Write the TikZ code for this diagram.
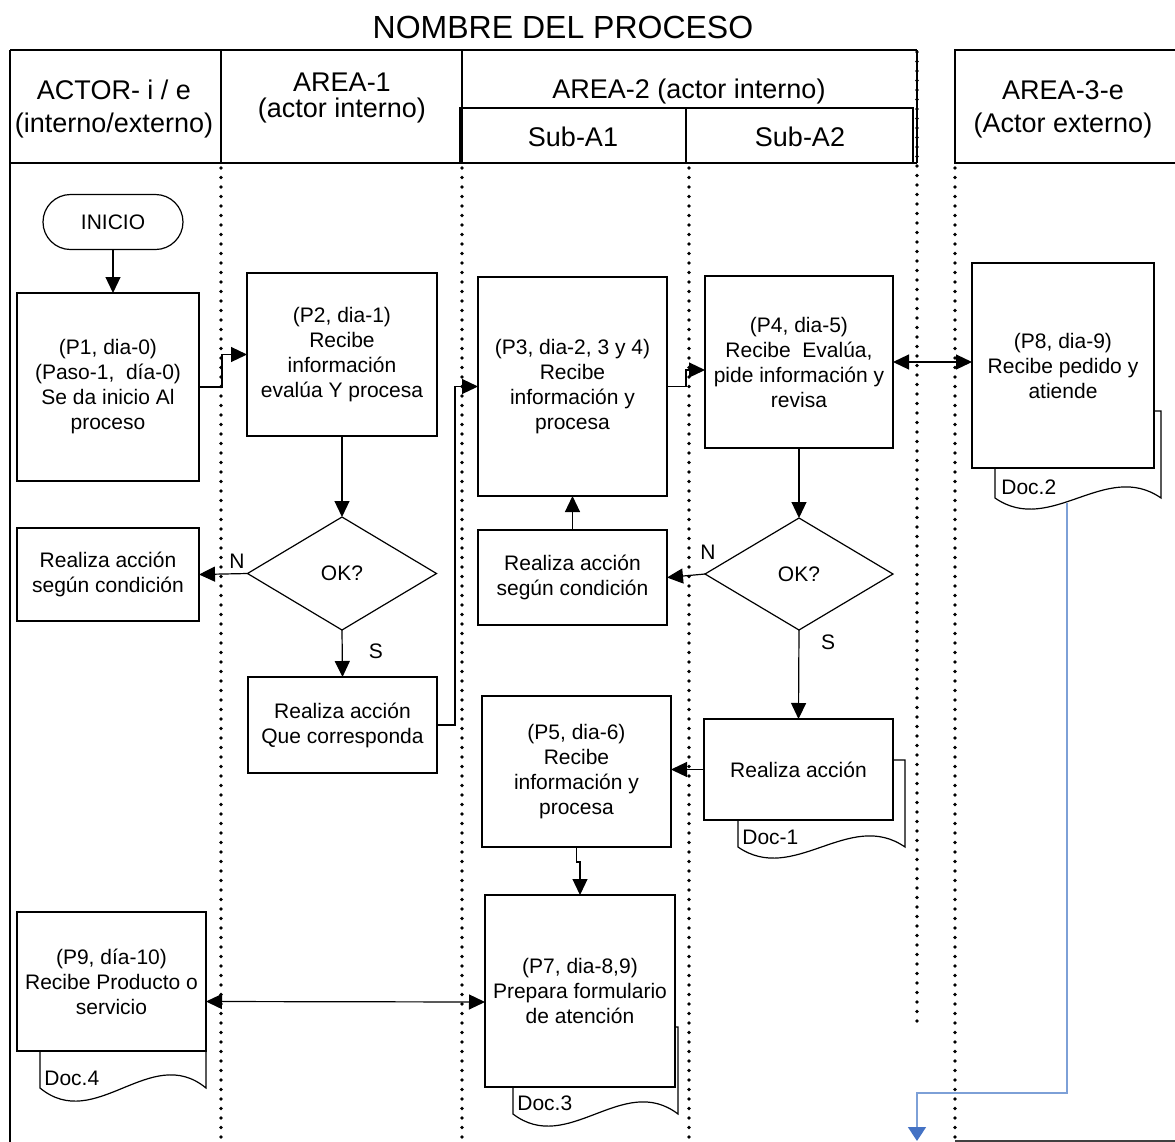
\documentclass[tikz,border=0pt]{standalone}
\usepackage{fontspec}
\setmainfont{Liberation Sans}
\usetikzlibrary{arrows.meta,shapes.geometric,shapes.misc,calc}
\newcommand\txtb{\fontsize{10.5pt}{12.5pt}\selectfont}
\newcommand\txth{\fontsize{13.5pt}{13pt}\selectfont}
\newcommand\txtt{\fontsize{16pt}{18pt}\selectfont}
\definecolor{lnblue}{RGB}{125,160,215}
\definecolor{tipblue}{RGB}{68,114,196}
\newcommand\docback[5]{\draw[line width=0.6pt, fill=white] (#1,#3) -- (#2,#3) -- (#2,#4) .. controls ({#2-(#2-#1)/3},{#4-3.5*#5}) and ({#1+(#2-#1)/3},{#4+3.5*#5}) .. (#1,#4) -- cycle;}
\tikzset{
  box/.style={draw, line width=0.6pt, fill=white, align=center, inner sep=0pt, outer sep=0pt, font=\txtb},
  dec/.style={diamond, draw, line width=0.6pt, fill=white, inner sep=0pt, outer sep=0pt, font=\txtb},
  arr/.style={-{Triangle[length=8pt,width=7.5pt]}, line width=0.6pt},
  darr/.style={{Triangle[length=8pt,width=7.5pt]}-{Triangle[length=8pt,width=7.5pt]}, line width=0.6pt},
  lane/.style={line width=1.8pt, line cap=round, dash pattern=on 0pt off 4.75pt},
  hdr/.style={line width=1pt},
  hdrtxt/.style={font=\txth, align=center, inner sep=0pt},
  doclbl/.style={anchor=west, font=\txtb, inner sep=0pt},
  lbl/.style={font=\txtb, inner sep=0pt},
  blueline/.style={draw=lnblue, line width=0.8pt, -{Triangle[length=7pt,width=9pt,color=tipblue]}}
}
\begin{document}
\begin{tikzpicture}[x=0.5pt,y=-0.5pt]
\useasboundingbox (0,0) rectangle (1175,1142);
\clip (0,0) rectangle (1175,1142);

% title
\node[font=\txtt, inner sep=0pt] (title) at (563,27) {NOMBRE DEL PROCESO};

% header frame
\draw[hdr] (10,50) -- (917,50);
\draw[hdr] (10,163) -- (917,163);
\draw[line width=1.2pt] (10,50) -- (10,1145);
\draw[hdr] (221,50) -- (221,163);
\draw[hdr] (462,50) -- (462,163);
\draw[hdr] (917,50) -- (917,163);
\draw[line width=0.6pt] (460,163) -- (460,108) -- (913,108) -- (913,163);
\draw[hdr] (686,108) -- (686,163);
\draw[hdr] (955,50) rectangle (1180,163);
\draw[hdr, draw=black!75] (955,1141) -- (1180,1141);

\node[hdrtxt] (hactor) at (114,109) {ACTOR- i / e\\[3.5pt](interno/externo)};
\node[hdrtxt] (harea1) at (342,98) {AREA-1\\(actor interno)};
\node[hdrtxt] (harea2) at (689,92) {AREA-2 (actor interno)};
\node[hdrtxt] (hsub1) at (573,137) {Sub-A1};
\node[hdrtxt] (hsub2) at (800,137) {Sub-A2};
\node[hdrtxt] (harea3) at (1063,109) {AREA-3-e\\[3.5pt](Actor externo)};

% lanes
\draw[lane] (221,168) -- (221,1142);
\draw[lane] (462,168) -- (462,1142);
\draw[lane] (689,168) -- (689,1142);
\draw[lane] (917,52) -- (917,1030);
\draw[lane] (955,168) -- (955,1142);

% document backs
\docback{995}{1161}{411}{498}{11}
\docback{738}{905}{760}{847}{11}
\docback{513}{678}{1027}{1114}{12}
\docback{40}{206}{1000}{1088}{13}
\node[doclbl] (doc2) at (1001,487) {Doc.2};
\node[doclbl] (doc1) at (742,837) {Doc-1};
\node[doclbl] (doc3) at (517,1103) {Doc.3};
\node[doclbl] (doc4) at (44,1078) {Doc.4};

% nodes
\node[box, rounded rectangle, minimum width=70pt, minimum height=27.5pt] (inicio) at (113,222) {INICIO};
\node[box, minimum width=91pt, minimum height=94pt] (p1) at (108,387) {(P1, dia-0)\\(Paso-1,\ \ día-0)\\Se da inicio Al\\proceso};
\node[box, minimum width=95pt, minimum height=81.5pt] (p2) at (342,354.5) {(P2, dia-1)\\Recibe\\información\\evalúa Y procesa};
\node[box, minimum width=91pt, minimum height=46.5pt] (n1) at (108,574.5) {Realiza acción\\según condición};
\node[dec, minimum width=94.5pt, minimum height=56.5pt] (d1) at (342,573.5) {OK?};
\node[box, minimum width=94.5pt, minimum height=48pt] (s1) at (342.5,725) {Realiza acción\\Que corresponda};
\node[box, minimum width=94.5pt, minimum height=109.5pt] (p3) at (572.5,386.5) {(P3, dia-2, 3 y 4)\\Recibe\\información y\\procesa};
\node[box, minimum width=94.5pt, minimum height=47.5pt] (n2) at (572.5,577.5) {Realiza acción\\según condición};
\node[box, minimum width=94pt, minimum height=86pt] (p4) at (799,362) {(P4, dia-5)\\Recibe\ \ Evalúa,\\pide información y\\revisa};
\node[dec, minimum width=94pt, minimum height=56pt] (d2) at (799,574) {OK?};
\node[box, minimum width=94.5pt, minimum height=50.5pt] (ra) at (798.5,769.5) {Realiza acción};
\node[box, minimum width=94.5pt, minimum height=75.5pt] (p5) at (576.5,771.5) {(P5, dia-6)\\Recibe\\información y\\procesa};
\node[box, minimum width=95pt, minimum height=96pt] (p7) at (580,991) {(P7, dia-8,9)\\Prepara formulario\\de atención};
\node[box, minimum width=91pt, minimum height=102.5pt] (p8) at (1063,365.5) {(P8, dia-9)\\Recibe pedido y\\atiende};
\node[box, minimum width=94.5pt, minimum height=69.5pt] (p9) at (111.5,981.5) {(P9, día-10)\\Recibe Producto o\\servicio};

% labels
\node[lbl] (ln1) at (237,561) {N};
\node[lbl] (ls1) at (376,651) {S};
\node[lbl] (ln2) at (708,552) {N};
\node[lbl] (ls2) at (828,642) {S};

% connectors
\draw[arr] (inicio.south) -- (inicio.south |- p1.north);
\draw[arr] (p1.east) -| ($(p2.west)+(-25,0)$) -- (p2.west);
\draw[arr] (p2.south) -- (d1.north);
\draw[arr] (d1.west) -- (n1.east);
\draw[arr] (d1.south) -- (s1.north);
\draw[arr] (s1.east) -| ($(p3.west)+(-23,0)$) -- (p3.west);
\draw[arr] (n2.north) -- (p3.south);
\draw[arr] (p3.east) -| ($(p4.west)+(-19,8)$) -- ($(p4.west)+(0,8)$);
\draw[darr] (p4.east) -- (p4.east -| p8.west);
\draw[arr] (p4.south) -- (d2.north);
\draw[arr] (d2.west) -- (n2.east);
\draw[arr] (d2.south) -- (ra.north);
\draw[arr] (ra.west) -- (ra.west -| p5.east);
\draw[arr] (p5.south) -- ++(0,15) -| (p7.north);
\draw[darr] ($(p9.east)+(0,20)$) -- ($(p7.west)+(0,11)$);

% blue connector
\coordinate (b0) at (1067,503);
\coordinate (bturn) at (917,1093);
\coordinate (b1) at (917,1141);
\draw[blueline] (b0) |- (bturn) -- (b1);
\end{tikzpicture}
\end{document}
